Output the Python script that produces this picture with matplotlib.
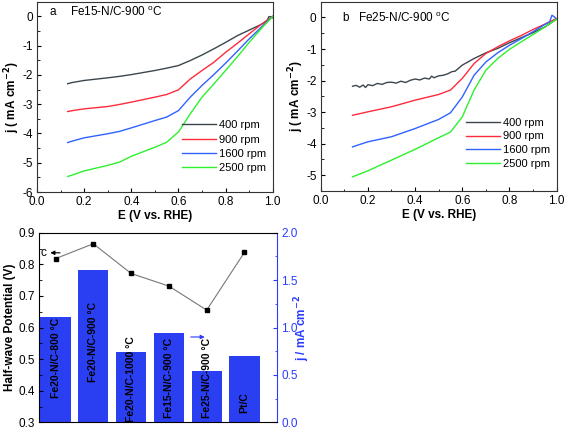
import numpy as np
import matplotlib
matplotlib.use("Agg")
import matplotlib.pyplot as plt
from matplotlib.ticker import MultipleLocator

plt.rcParams['font.family'] = ['Liberation Sans', 'DejaVu Sans']
plt.rcParams['font.size'] = 8.5

# ---------------- data ----------------
# panel a: Fe15-N/C-900 C
E_a = [0.13, 0.15, 0.2, 0.3, 0.35, 0.4, 0.5, 0.55, 0.6, 0.65, 0.7, 0.75, 0.8, 0.85, 0.9, 0.95, 1.0]
a_900 = [-3.25, -3.22, -3.16, -3.08, -3.01, -2.93, -2.76, -2.67, -2.51, -2.14, -1.85, -1.57, -1.23, -0.92, -0.60, -0.28, 0.0]
a_1600 = [-4.31, -4.26, -4.15, -4.01, -3.93, -3.81, -3.56, -3.44, -3.22, -2.76, -2.36, -1.99, -1.60, -1.19, -0.77, -0.38, 0.0]
a_2500 = [-5.47, -5.42, -5.28, -5.09, -4.98, -4.78, -4.47, -4.30, -3.95, -3.33, -2.76, -2.31, -1.85, -1.38, -0.89, -0.43, 0.0]
# 400 rpm curve, with its small hook near 1.0 V
E_a400 = [0.13, 0.15, 0.2, 0.3, 0.35, 0.4, 0.5, 0.55, 0.6, 0.65, 0.7, 0.75, 0.8, 0.85, 0.9, 0.95, 0.975, 0.984, 0.995, 1.0]
a_400 = [-2.30, -2.26, -2.19, -2.10, -2.05, -1.99, -1.85, -1.77, -1.68, -1.51, -1.32, -1.11, -0.89, -0.66, -0.47, -0.28, -0.16, -0.01, -0.01, -0.05]

# panel b: Fe25-N/C-900 C
E_b400 = [0.135, 0.15, 0.165, 0.18, 0.19, 0.2, 0.22, 0.24, 0.26, 0.28, 0.3, 0.32, 0.34, 0.36, 0.38,
          0.4, 0.42, 0.44, 0.46, 0.47, 0.48, 0.5, 0.52, 0.54, 0.555, 0.57, 0.6, 0.65, 0.7, 0.75,
          0.8, 0.85, 0.9, 0.95, 1.0]
b_400 = [-2.18, -2.15, -2.21, -2.14, -2.22, -2.13, -2.16, -2.09, -2.12, -2.06, -2.05, -2.08, -2.02, -2.06, -1.99,
         -1.95, -1.98, -1.92, -1.95, -1.86, -1.91, -1.85, -1.83, -1.78, -1.72, -1.70, -1.51, -1.30, -1.12, -0.98,
         -0.80, -0.64, -0.48, -0.30, -0.05]
E_b = [0.135, 0.2, 0.3, 0.4, 0.5, 0.55, 0.6, 0.65, 0.7, 0.75, 0.8, 0.85, 0.9, 0.95, 1.0]
b_900 = [-3.10, -2.99, -2.83, -2.62, -2.44, -2.30, -1.93, -1.46, -1.14, -0.93, -0.74, -0.57, -0.38, -0.21, -0.03]
b_2500 = [-5.05, -4.86, -4.52, -4.18, -3.81, -3.63, -3.15, -2.30, -1.67, -1.30, -1.01, -0.77, -0.54, -0.30, -0.05]
E_b1600 = [0.135, 0.2, 0.3, 0.4, 0.5, 0.55, 0.6, 0.65, 0.7, 0.75, 0.8, 0.85, 0.9, 0.95, 0.97, 0.98, 0.99, 1.0]
b_1600 = [-4.10, -3.94, -3.78, -3.52, -3.23, -3.02, -2.52, -1.83, -1.41, -1.12, -0.88, -0.67, -0.45, -0.22, -0.14, 0.07, 0.02, -0.05]

rpm_labels = ["400 rpm", "900 rpm", "1600 rpm", "2500 rpm"]
rpm_colors = ["#3b474d", "#ff2a3c", "#2f62ff", "#2ef02e"]

# panel c
samples = ["Fe20-N/C-800 °C", "Fe20-N/C-900 °C", "Fe20-N/C-1000 °C",
           "Fe15-N/C-900 °C", "Fe25-N/C-900 °C", "Pt/C"]
half_wave = [0.818, 0.865, 0.771, 0.731, 0.655, 0.838]
j_bar = [1.107, 1.61, 0.738, 0.938, 0.538, 0.70]
label_y = [0.377, 0.429, 0.302, 0.314, 0.314, 0.330]

bar_blue = "#2b3ff2"
axis_blue = "#2a3cff"

fig = plt.figure(figsize=(5.67, 4.28), dpi=100)


def style_lsv(ax, ylim, ymajor):
    ax.set_xlim(0.0, 1.0)
    ax.set_ylim(*ylim)
    ax.xaxis.set_major_locator(MultipleLocator(0.2))
    ax.xaxis.set_minor_locator(MultipleLocator(0.1))
    ax.yaxis.set_major_locator(MultipleLocator(ymajor))
    ax.yaxis.set_minor_locator(MultipleLocator(ymajor / 2))
    ax.tick_params(which='both', direction='in', top=False, right=False, labelsize=8.5, pad=3)
    ax.tick_params(which='major', length=3)
    ax.tick_params(which='minor', length=1.8)
    ax.xaxis.set_major_formatter(plt.FuncFormatter(lambda v, p: f"{v:.1f}"))
    ax.yaxis.set_major_formatter(plt.FuncFormatter(lambda v, p: f"{v:.0f}"))
    for s in ax.spines.values():
        s.set_linewidth(0.8)
        s.set_color("#333333")
    ax.set_xlabel("E (V vs. RHE)", fontweight='bold', fontsize=8.5, labelpad=1)
    ax.set_ylabel("j ( mA cm$^{\\mathbf{-2}}$)", fontweight='bold', fontsize=8.5, labelpad=0)


# ---- panel a ----
ax_a = fig.add_axes([0.0653, 0.5514, 0.4157, 0.4446])
ax_a.plot(E_a400, a_400, color=rpm_colors[0], lw=1, label=rpm_labels[0])
ax_a.plot(E_a, a_900, color=rpm_colors[1], lw=1, label=rpm_labels[1])
ax_a.plot(E_a, a_1600, color=rpm_colors[2], lw=1, label=rpm_labels[2])
ax_a.plot(E_a, a_2500, color=rpm_colors[3], lw=1, label=rpm_labels[3])
style_lsv(ax_a, (-6, 0.5), 1)
ax_a.text(0.055, 0.945, "a", transform=ax_a.transAxes, fontsize=8.5, va='center')
ax_a.text(0.14, 0.945, "Fe15-N/C-900 $^{\\mathregular{o}}$C", transform=ax_a.transAxes, fontsize=8.5, va='center')
ax_a.legend(loc='lower right', bbox_to_anchor=(1.0, 0.065), frameon=False, fontsize=8,
            handlelength=3.0, handletextpad=0.3, labelspacing=0.38, borderaxespad=0.2)

# ---- panel b ----
ax_b = fig.add_axes([0.5656, 0.5537, 0.4162, 0.4423])
ax_b.plot(E_b400, b_400, color=rpm_colors[0], lw=1, label=rpm_labels[0])
ax_b.plot(E_b, b_900, color=rpm_colors[1], lw=1, label=rpm_labels[1])
ax_b.plot(E_b1600, b_1600, color=rpm_colors[2], lw=1, label=rpm_labels[2])
ax_b.plot(E_b, b_2500, color=rpm_colors[3], lw=1, label=rpm_labels[3])
style_lsv(ax_b, (-5.5, 0.5), 1)
ax_b.text(0.09, 0.915, "b", transform=ax_b.transAxes, fontsize=8.5, va='center')
ax_b.text(0.158, 0.915, "Fe25-N/C-900 $^{\\mathregular{o}}$C", transform=ax_b.transAxes, fontsize=8.5, va='center')
ax_b.legend(loc='lower right', bbox_to_anchor=(1.0, 0.08), frameon=False, fontsize=8,
            handlelength=3.0, handletextpad=0.3, labelspacing=0.35, borderaxespad=0.2)

# ---- panel c ----
ax_c = fig.add_axes([0.0688, 0.0133, 0.4197, 0.443])
ax_j = ax_c.twinx()
pos = np.arange(1, len(samples) + 1)
ax_j.bar(pos, j_bar, width=0.8, color=bar_blue)
ax_j.set_ylim(0, 2.0)
ax_j.yaxis.set_major_locator(MultipleLocator(0.5))
ax_j.yaxis.set_minor_locator(MultipleLocator(0.25))
ax_j.tick_params(axis='y', which='both', direction='in', colors=axis_blue, labelsize=8.5, pad=3)
ax_j.tick_params(axis='y', which='major', length=3)
ax_j.tick_params(axis='y', which='minor', length=1.8)
ax_j.spines['right'].set_color(axis_blue)
ax_j.set_ylabel("j / mA cm$^{\\mathbf{-2}}$", color=axis_blue, fontweight='bold', fontsize=8.5)
ax_j.yaxis.set_label_coords(1.065, 0.5)

ax_c.set_zorder(ax_j.get_zorder() + 1)
ax_c.patch.set_visible(False)
ax_c.plot(pos, half_wave, color="#777777", lw=0.8, marker='s', markersize=3.5,
          markerfacecolor='black', markeredgecolor='black')
ax_c.set_xlim(0.563, 6.86)
ax_c.set_ylim(0.3, 0.9)
ax_c.yaxis.set_major_locator(MultipleLocator(0.1))
ax_c.yaxis.set_minor_locator(MultipleLocator(0.05))
ax_c.tick_params(axis='y', which='both', direction='in', labelsize=8.5, pad=3)
ax_c.tick_params(axis='y', which='major', length=3)
ax_c.tick_params(axis='y', which='minor', length=1.8)
ax_c.tick_params(axis='x', which='both', bottom=False, labelbottom=False)
ax_c.set_xticks([])
ax_c.set_ylabel("Half-wave Potential (V)", fontweight='bold', fontsize=8.5, labelpad=2)
for s in ax_c.spines.values():
    s.set_linewidth(0.8)
ax_c.spines['right'].set_visible(False)
ax_j.spines['right'].set_linewidth(0.8)
for k in ['left', 'top', 'bottom']:
    ax_j.spines[k].set_visible(False)

for x, name, yl in zip(pos, samples, label_y):
    ax_c.text(x, yl, name, rotation=90, ha='center', va='bottom',
              fontweight='bold', fontsize=7.5, color='black')

ax_c.text(0.017, 0.895, "c", transform=ax_c.transAxes, fontsize=8.5, ha='center', va='center')
ax_c.annotate("", xy=(0.036, 0.894), xytext=(0.10, 0.894), xycoords='axes fraction',
              arrowprops=dict(arrowstyle='-|>', color='black', lw=0.8, mutation_scale=6))
ax_c.annotate("", xy=(0.708, 0.45), xytext=(0.626, 0.45), xycoords='axes fraction',
              arrowprops=dict(arrowstyle='-|>', color=axis_blue, lw=0.8, mutation_scale=6))

fig.savefig("out.png", dpi=100)
